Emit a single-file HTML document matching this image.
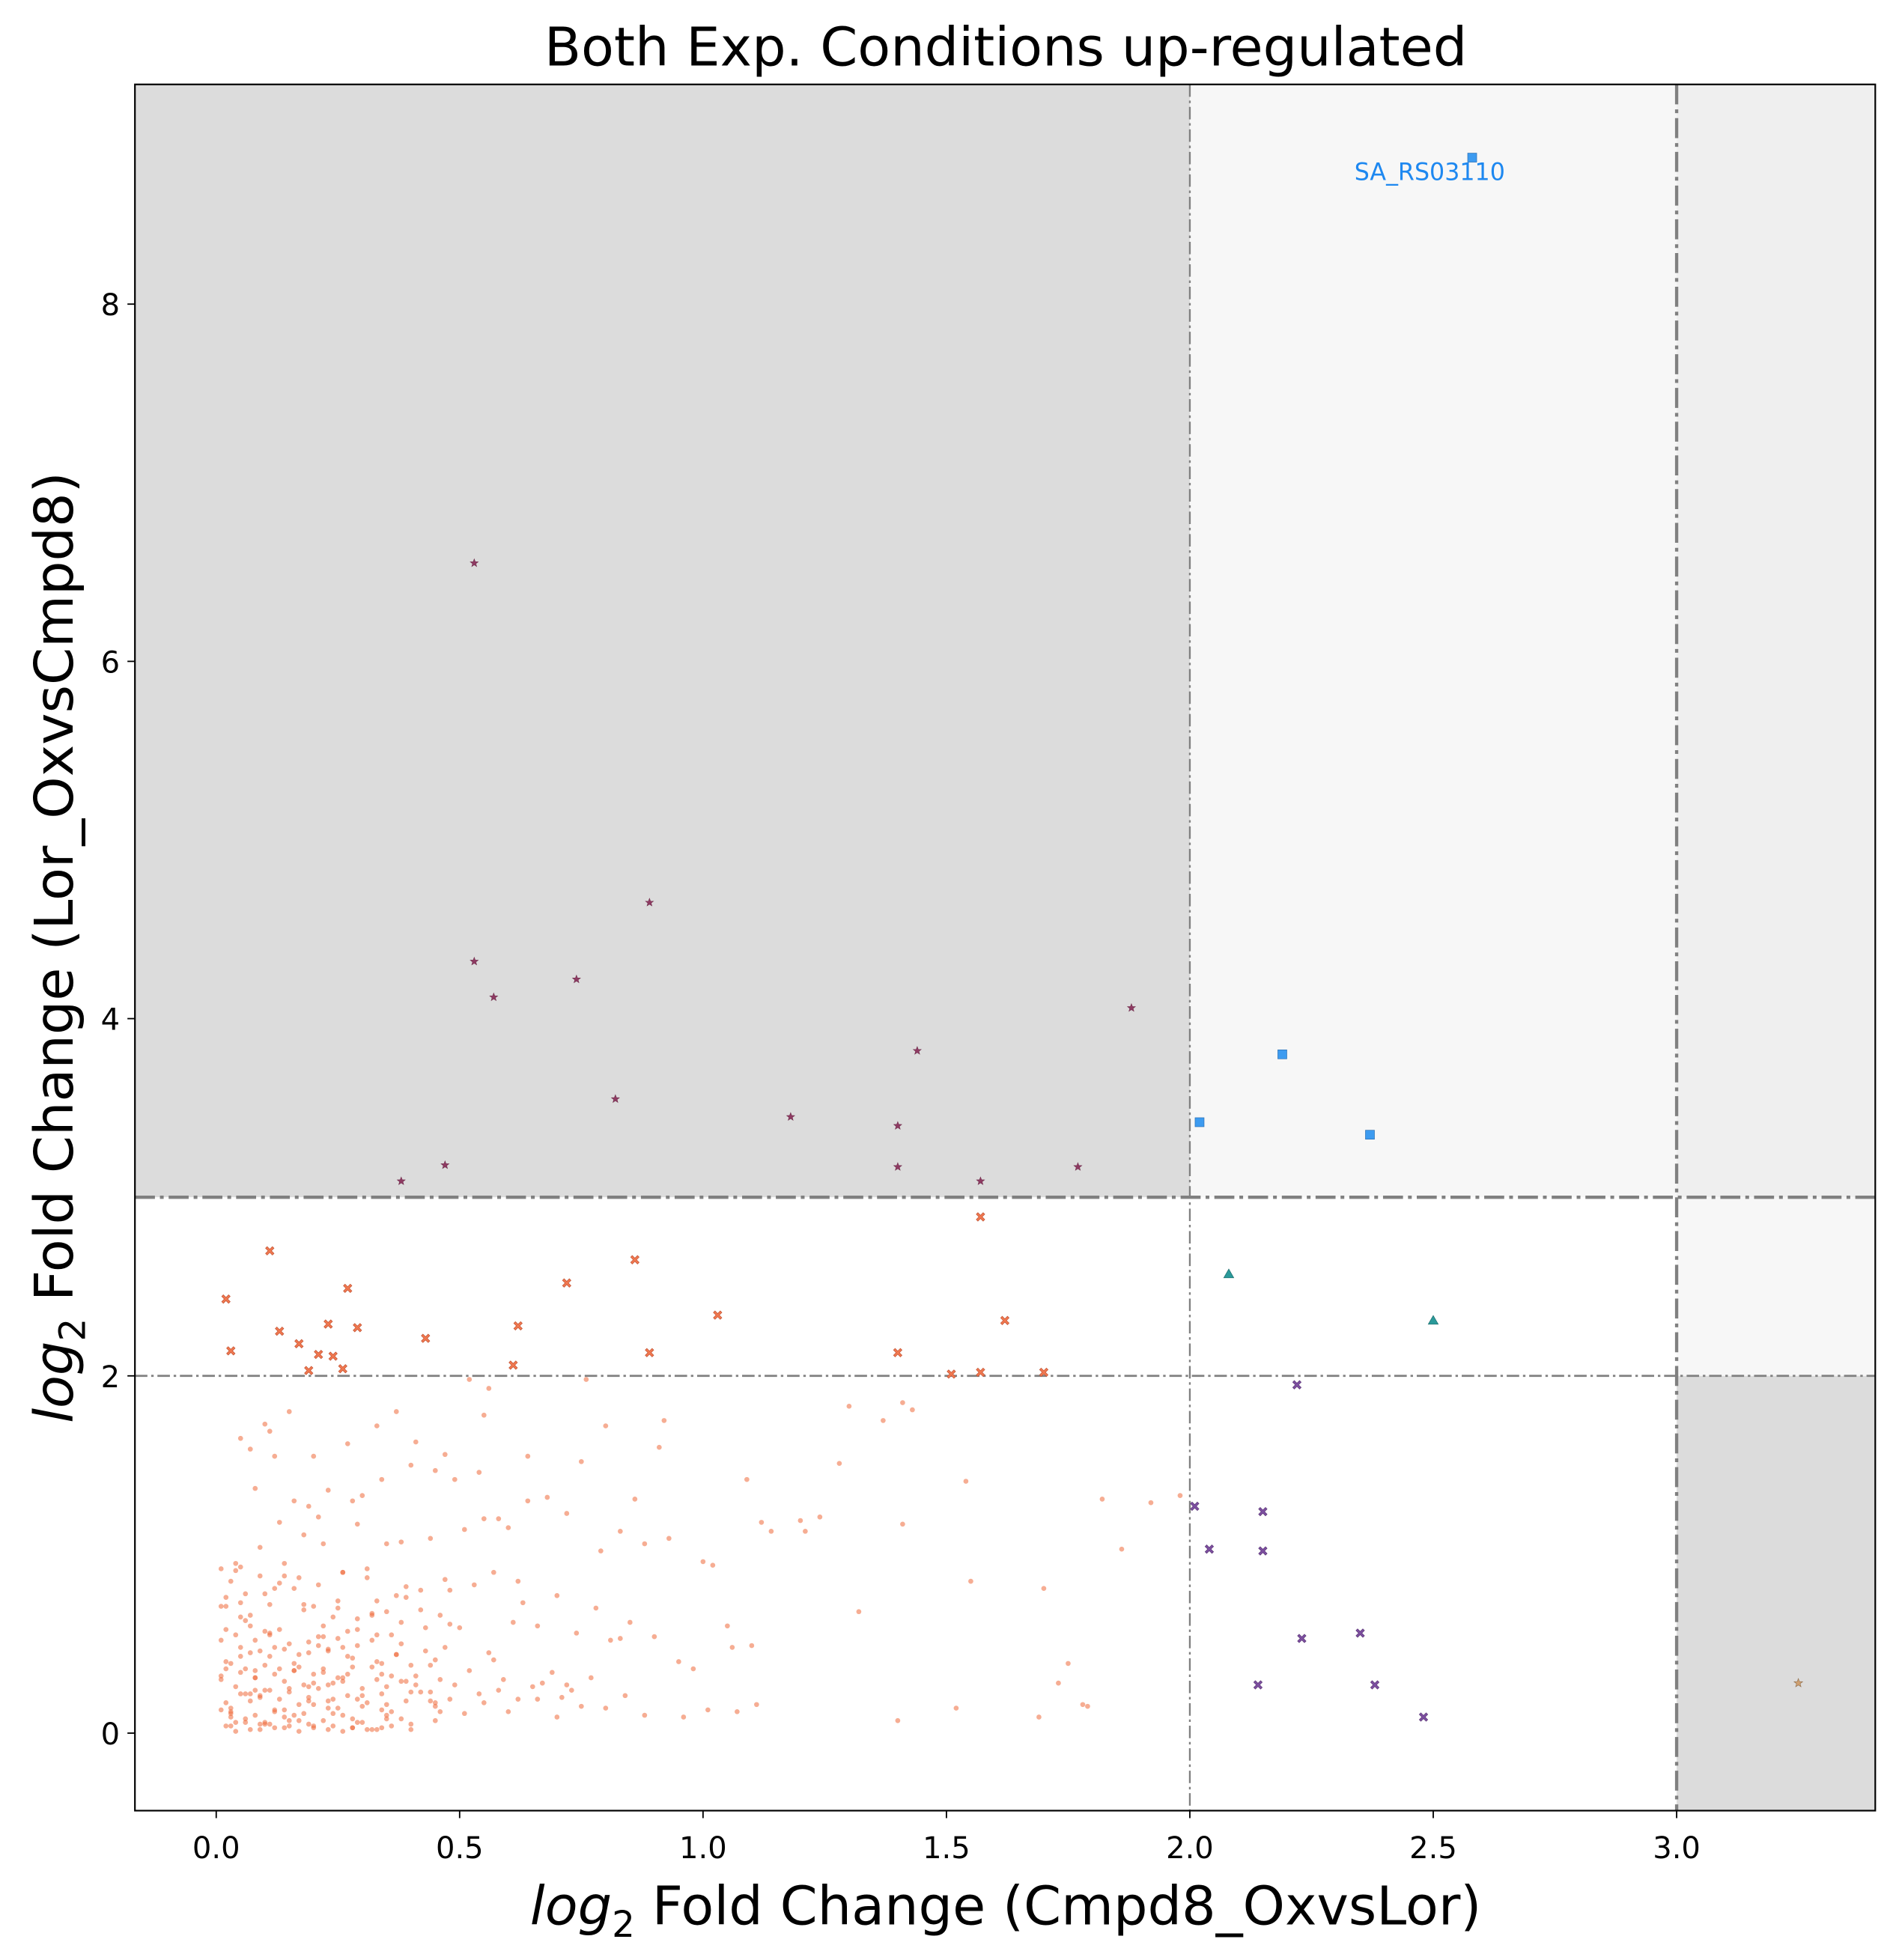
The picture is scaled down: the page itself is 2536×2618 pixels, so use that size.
<!DOCTYPE html>
<html><head><meta charset="utf-8"><style>
html,body{margin:0;padding:0;background:#fff;}
svg{display:block;font-family:"DejaVu Sans","Liberation Sans",sans-serif;}
</style></head><body>
<svg id="chart" width="2536" height="2618" viewBox="0 0 1520 1568" xmlns="http://www.w3.org/2000/svg">
<g id="bg"></g>
<g id="guides"></g>
<g id="marks"></g>
<g id="axes"></g>
<text x="805" y="52" font-size="43" text-anchor="middle">Both Exp. Conditions up-regulated</text>
<text x="805" y="1540" font-size="43" text-anchor="middle"><tspan font-style="italic">log</tspan><tspan font-size="29" dy="10">2</tspan><tspan dy="-10"> Fold Change (Cmpd8_OxvsLor)</tspan></text>
<text transform="translate(58,758) rotate(-90)" font-size="43" text-anchor="middle"><tspan font-style="italic">log</tspan><tspan font-size="29" dy="10">2</tspan><tspan dy="-10"> Fold Change (Lor_OxvsCmpd8)</tspan></text>
</svg>
<script>
const xTicks=[0,0.5,1.0,1.5,2.0,2.5,3.0];
const xTickLabels=["0.0","0.5","1.0","1.5","2.0","2.5","3.0"];
const yTicks=[0,2,4,6,8];
const yTickLabels=["0","2","4","6","8"];
const starX=[0.53,0.89,0.53,0.74,0.57,1.88,1.44,0.82,1.18,1.40,0.47,1.40,1.77,0.38,1.57];
const starY=[6.55,4.65,4.32,4.22,4.12,4.06,3.82,3.55,3.45,3.40,3.18,3.17,3.17,3.09,3.09];
const squareX=[2.58,2.19,2.02,2.37];
const squareY=[8.82,3.80,3.42,3.35];
const triX=[2.08,2.50];
const triY=[2.57,2.31];
const purpleX=[2.22,2.01,2.15,2.04,2.15,2.35,2.23,2.14,2.38,2.48];
const purpleY=[1.95,1.27,1.24,1.03,1.02,0.56,0.53,0.27,0.27,0.09];
const orangeX=[0.11,0.86,1.57,0.72,0.27,0.02,1.03,1.62,0.62,0.23,0.29,0.13,0.43,0.17,0.03,0.21,0.24,0.89,1.40,0.61,0.26,0.19,1.51,1.57,1.70];
const orangeY=[2.70,2.65,2.89,2.52,2.49,2.43,2.34,2.31,2.28,2.29,2.27,2.25,2.21,2.18,2.14,2.12,2.11,2.13,2.13,2.06,2.04,2.03,2.01,2.02,2.02];
const tanX=[3.25];
const tanY=[0.28];
const dotX=[0.52,1.30,0.56,1.37,0.37,0.76,1.82,1.20,1.21,1.54,0.55,0.64,0.75,0.47,0.41,1.41,1.43,1.79,0.20,0.27,0.11,0.10,0.15,0.54,0.33,0.40,0.58,0.16,0.23,0.34,0.80,0.79,0.92,0.91,1.12,1.28,0.05,0.07,0.12,0.08,0.19,0.21,0.28,0.02,0.04,0.05,0.09,0.13,0.18,0.22,0.29,0.30,0.35,0.38,0.44,0.45,0.49,0.51,0.55,0.60,0.64,0.68,0.72,0.83,0.86,0.88,0.93,1.00,1.02,1.06,1.09,1.14,1.24,1.32,1.41,1.55,1.70,1.73,1.75,1.78,1.86,1.92,1.98,0.01,0.03,0.06,0.09,0.11,0.14,0.16,0.20,0.24,0.26,0.31,0.33,0.36,0.39,0.42,0.46,0.48,0.50,0.53,0.57,0.61,0.63,0.66,0.70,0.74,0.78,0.81,0.85,0.90,0.95,0.98,1.05,1.10,0.02,0.04,0.07,0.08,0.10,0.12,0.15,0.17,0.19,0.21,0.23,0.25,0.27,0.29,0.32,0.34,0.37,0.40,0.43,0.45,0.47,0.52,0.56,0.59,0.65,0.69,0.73,0.77,0.84,0.01,0.03,0.05,0.06,0.08,0.10,0.12,0.14,0.16,0.18,0.20,0.22,0.24,0.26,0.28,0.30,0.33,0.35,0.38,0.41,0.44,0.46,0.49,0.54,0.58,0.62,0.67,0.71,0.75,0.02,0.04,0.05,0.07,0.09,0.11,0.13,0.15,0.17,0.19,0.21,0.23,0.25,0.27,0.31,0.34,0.36,0.39,0.42,0.45,0.48,0.51,0.55,0.60,0.66,0.70,0.80,0.88,1.01,1.07,1.11,1.40,1.52,1.69,0.01,0.03,0.06,0.08,0.10,0.12,0.14,0.18,0.22,0.26,0.30,0.35,0.40,0.45,0.02,0.06,0.10,0.14,0.19,0.24,0.29,0.34,0.40,0.03,0.07,0.12,0.17,0.23,0.28,0.33,0.04,0.09,0.15,0.20,0.26,0.32,0.38,0.44,0.57,0.62,0.72,0.83,0.96,
0.01,0.02,0.03,0.04,0.05,0.06,0.07,0.08,0.09,0.10,0.11,0.12,0.13,0.14,0.15,0.16,0.17,0.18,0.19,0.20,0.21,0.22,0.23,0.24,0.25,0.26,0.27,0.28,0.29,0.30,0.31,0.32,0.33,0.34,0.35,0.36,0.37,0.38,0.39,0.41,0.43,0.45,0.47,0.02,0.04,0.06,0.08,0.10,0.12,0.14,0.16,0.18,0.20,0.22,0.24,0.26,0.28,0.30,0.32,0.34,0.36,0.38,0.40,0.42,0.44,0.46,0.48,0.01,0.03,0.05,0.07,0.09,0.11,0.13,0.15,0.17,0.19,0.21,0.23,0.25,0.27,0.29,0.31,0.33,0.35,0.37,0.39,0.01,0.03,0.05,0.07,0.09,0.11,0.13,0.16,0.19,0.22,0.25,0.28,0.02,0.05,0.08,0.11,0.14,0.17,0.20,0.23,0.26,0.29,0.32,0.35,0.38,0.04,0.07,0.10,0.13,0.16,0.22,0.27,0.31];
const dotY=[1.98,1.83,1.93,1.75,1.80,1.98,1.31,1.19,1.13,1.41,1.78,1.55,1.52,1.56,1.63,1.85,1.81,0.15,1.55,1.62,1.69,1.73,1.80,1.46,1.72,1.50,1.20,1.30,1.36,1.42,1.72,1.02,1.75,1.60,1.18,1.51,1.65,1.59,1.55,1.37,1.27,1.21,1.30,0.76,0.91,0.93,1.04,1.18,1.11,1.06,1.17,1.33,1.06,1.07,1.09,1.47,1.42,1.14,1.20,1.15,1.30,1.32,1.23,1.13,1.31,1.06,1.09,0.96,0.94,0.48,1.42,1.13,1.21,0.68,1.17,0.85,0.81,0.28,0.39,0.16,1.03,1.29,1.33,0.92,0.85,0.78,0.88,0.72,0.95,0.81,0.71,0.65,0.90,0.87,0.74,0.55,0.82,0.69,0.66,0.80,0.59,0.83,0.90,0.62,0.73,0.60,0.77,0.56,0.70,0.52,0.62,0.54,0.40,0.36,0.60,0.49,0.58,0.55,0.60,0.52,0.57,0.48,0.50,0.44,0.45,0.54,0.47,0.53,0.43,0.49,0.52,0.39,0.44,0.38,0.46,0.41,0.48,0.35,0.45,0.30,0.26,0.34,0.24,0.31,0.21,0.32,0.39,0.34,0.36,0.31,0.38,0.33,0.29,0.35,0.27,0.33,0.36,0.28,0.31,0.37,0.25,0.30,0.26,0.29,0.32,0.23,0.30,0.27,0.22,0.24,0.19,0.28,0.20,0.15,0.17,0.26,0.22,0.18,0.21,0.24,0.19,0.23,0.16,0.20,0.25,0.18,0.14,0.21,0.17,0.22,0.12,0.18,0.23,0.15,0.19,0.11,0.17,0.12,0.19,0.09,0.14,0.10,0.13,0.12,0.16,0.07,0.14,0.09,0.13,0.12,0.08,0.10,0.06,0.13,0.09,0.11,0.07,0.10,0.06,0.08,0.05,0.07,0.04,0.06,0.05,0.03,0.05,0.04,0.06,0.03,0.02,0.04,0.02,0.03,0.01,0.02,0.03,0.02,0.01,0.02,0.04,0.03,0.01,0.02,
0.62,0.18,0.41,0.85,0.27,0.53,0.09,0.71,0.36,0.14,0.95,0.48,0.22,0.66,0.31,0.05,0.78,0.43,0.12,0.58,0.88,0.25,0.39,0.07,0.69,0.51,0.16,0.83,0.34,0.46,0.11,0.74,0.29,0.57,0.03,0.64,0.21,0.92,0.37,0.55,0.13,0.68,0.32,0.44,0.08,0.76,0.27,0.59,0.17,0.86,0.40,0.06,0.63,0.35,0.24,0.81,0.47,0.10,0.72,0.28,0.54,0.19,0.90,0.42,0.15,0.67,0.33,0.04,0.50,0.23,0.80,0.38,0.12,0.61,0.30,0.09,0.73,0.45,0.20,0.56,0.36,0.07,0.87,0.26,0.49,0.14,0.70,0.33,0.58,0.02,0.40,0.16,0.77,0.29,0.52,0.11,0.65,0.22,0.46,0.05,0.84,0.35,0.18,0.60,0.31,0.08,0.71,0.43,0.24,0.55,0.13,0.37,0.04,0.27,0.48,0.19,0.66,0.10];

const L=108,R=1501,T=67,B=1449;
const xMin=-0.167,xMax=3.408,yMin=-0.434,yMax=9.23;
function sx(v){return L+(v-xMin)/(xMax-xMin)*(R-L);}
function sy(v){return B-(v-yMin)/(yMax-yMin)*(B-T);}
const NS="http://www.w3.org/2000/svg";
function mk(tag,parent,attrs){const e=document.createElementNS(NS,tag);for(const k in attrs)e.setAttribute(k,attrs[k]);parent.appendChild(e);return e;}
const bg=document.getElementById('bg'),guides=document.getElementById('guides'),marks=document.getElementById('marks'),axes=document.getElementById('axes');

let r;
r=mk('rect',bg,{x:L,y:T,width:sx(2)-L,height:sy(3)-T,fill:'#dcdcdc'});


r=mk('rect',bg,{x:sx(2),y:T,width:sx(3)-sx(2),height:sy(3)-T,fill:'#f7f7f7'});


r=mk('rect',bg,{x:sx(3),y:T,width:R-sx(3),height:sy(3)-T,fill:'#efefef'});


r=mk('rect',bg,{x:sx(3),y:sy(3),width:R-sx(3),height:sy(2)-sy(3),fill:'#f7f7f7'});


r=mk('rect',bg,{x:sx(3),y:sy(2),width:R-sx(3),height:B-sy(2),fill:'#dcdcdc'});



let g;
g=mk('line',guides,{x1:L,x2:R,y1:sy(3),y2:sy(3),stroke:'#808080','stroke-width':2.6,'stroke-dasharray':'16 4 3 4'});


g=mk('line',guides,{x1:L,x2:R,y1:sy(2),y2:sy(2),stroke:'#808080','stroke-width':1.6,'stroke-dasharray':'10 3 2 3'});


g=mk('line',guides,{x1:sx(2),x2:sx(2),y1:T,y2:B,stroke:'#808080','stroke-width':1.4,'stroke-dasharray':'10 3 2 3'});


g=mk('line',guides,{x1:sx(3),x2:sx(3),y1:T,y2:B,stroke:'#808080','stroke-width':2.6,'stroke-dasharray':'16 4 3 4'});



const nDots=Math.min(dotX.length,dotY.length);
for(let i=0;i<nDots;i++){
  const c=mk('circle',marks,{cx:sx(dotX[i]),cy:sy(dotY[i]),r:2.0,fill:'#ee6a3a','fill-opacity':0.55});
  
  
}
function cross(x,y,s){
  return `M${x-s},${y-s+1.3}L${x-s+1.3},${y-s}L${x},${y-1.3}L${x+s-1.3},${y-s}L${x+s},${y-s+1.3}L${x+1.3},${y}L${x+s},${y+s-1.3}L${x+s-1.3},${y+s}L${x},${y+1.3}L${x-s+1.3},${y+s}L${x-s},${y+s-1.3}L${x-1.3},${y}Z`;
}
function star(x,y,ro){let p='';for(let k=0;k<10;k++){const a=-Math.PI/2+k*Math.PI/5;const rr=k%2?ro*0.42:ro;p+=(k?'L':'M')+(x+rr*Math.cos(a))+','+(y+rr*Math.sin(a));}return p+'Z';}
for(let i=0;i<orangeX.length;i++){
  const p=mk('path',marks,{d:cross(sx(orangeX[i]),sy(orangeY[i]),3.4),fill:'#f07850',stroke:'#c05030','stroke-width':0.4});
  
  
}
for(let i=0;i<purpleX.length;i++){
  const p=mk('path',marks,{d:cross(sx(purpleX[i]),sy(purpleY[i]),3.4),fill:'#7d4fa0',stroke:'#5a3575','stroke-width':0.4});
  
  
}
for(let i=0;i<starX.length;i++){
  const p=mk('path',marks,{d:star(sx(starX[i]),sy(starY[i]),3.4),fill:'#8e3a62',stroke:'#6a2a48','stroke-width':0.3});
  
  
}
for(let i=0;i<tanX.length;i++){
  const p=mk('path',marks,{d:star(sx(tanX[i]),sy(tanY[i]),3.6),fill:'#d0a070',stroke:'#907050','stroke-width':0.4});
  
  
}
for(let i=0;i<squareX.length;i++){
  const p=mk('rect',marks,{x:sx(squareX[i])-3.6,y:sy(squareY[i])-3.6,width:7.2,height:7.2,fill:'#3d9bf0',stroke:'#2a6db0','stroke-width':0.4});
  
  
}
for(let i=0;i<triX.length;i++){
  const x=sx(triX[i]),y=sy(triY[i]);
  const p=mk('path',marks,{d:`M${x},${y-4}L${x+4},${y+3}L${x-4},${y+3}Z`,fill:'#2a9a9a',stroke:'#1a6a6a','stroke-width':0.4});
  
  
}
const lab=mk('text',marks,{x:sx(squareX[0])-34,y:sy(squareY[0])+18,'font-size':19,fill:'#1e88f0','text-anchor':'middle'});
lab.textContent='SA_RS03110';



const frame=mk('rect',axes,{x:L,y:T,width:R-L,height:B-T,fill:'none',stroke:'#000','stroke-width':1.3});


for(let i=0;i<xTicks.length;i++){
  const x=sx(xTicks[i]);
  const t=mk('line',axes,{x1:x,x2:x,y1:B,y2:B+6,stroke:'#000','stroke-width':1.1});
  
  
  const tx=mk('text',axes,{x:x,y:B+38,'font-size':24,'text-anchor':'middle'});
  tx.textContent=xTickLabels[i];
  
  
}
for(let i=0;i<yTicks.length;i++){
  const y=sy(yTicks[i]);
  const t=mk('line',axes,{x1:L-6,x2:L,y1:y,y2:y,stroke:'#000','stroke-width':1.1});
  
  
  const tx=mk('text',axes,{x:L-12,y:y+9,'font-size':24,'text-anchor':'end'});
  tx.textContent=yTickLabels[i];
  
  
}
</script>
</body></html>
